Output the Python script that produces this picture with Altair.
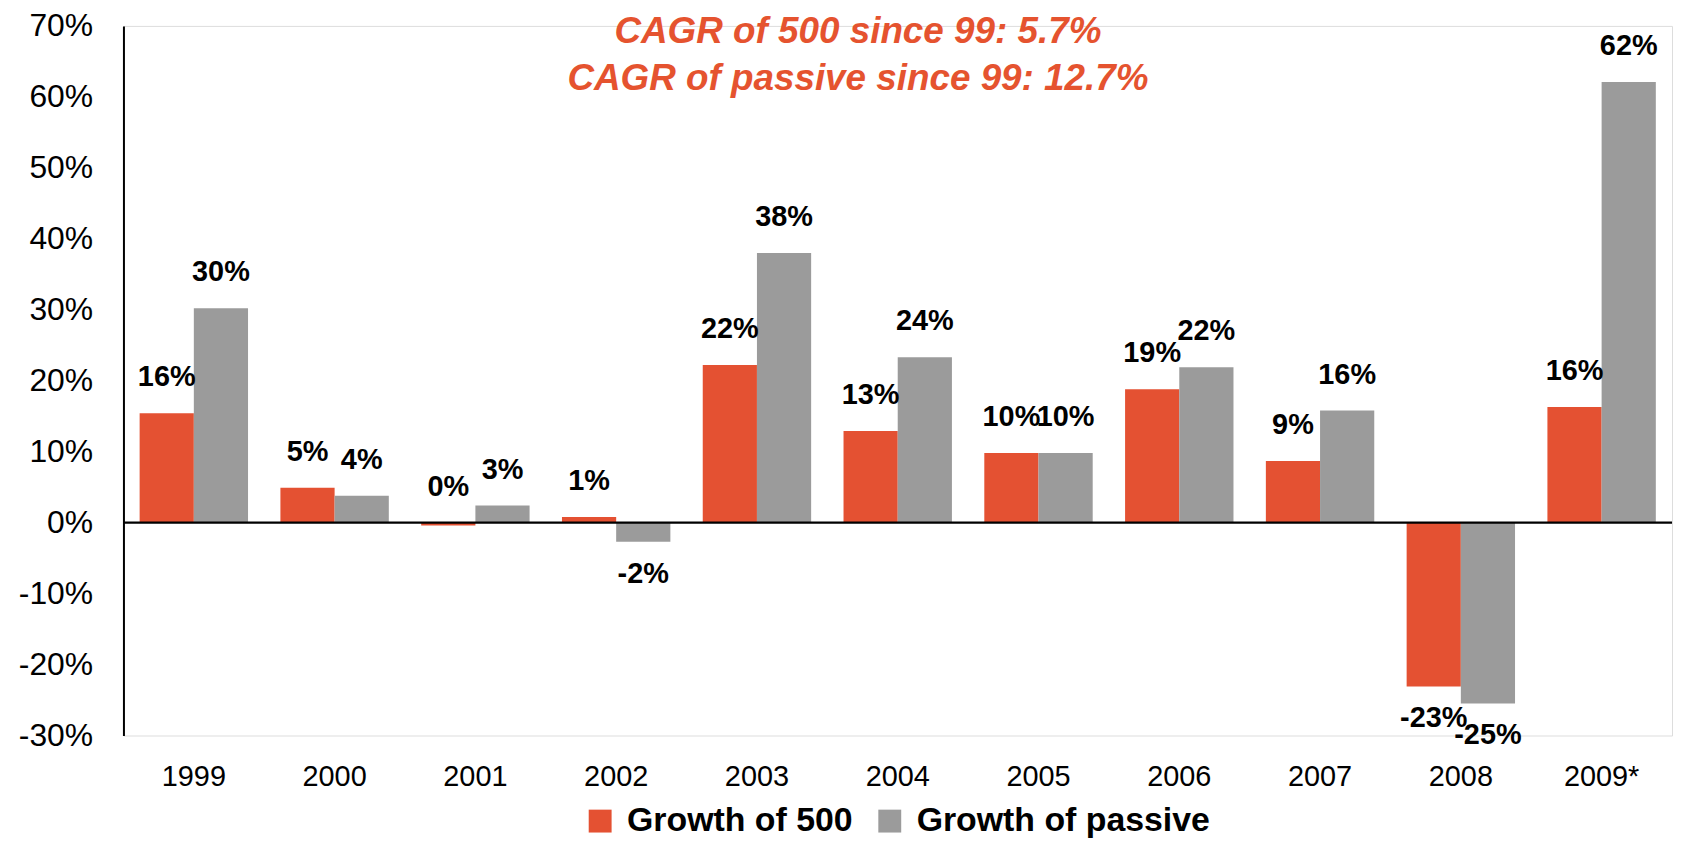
import altair as alt
import pandas as pd

years = ["1999", "2000", "2001", "2002", "2003", "2004", "2005", "2006", "2007", "2008", "2009*"]
series_names = ["Growth of 500", "Growth of passive"]
growth_500 = [15.4, 4.9, -0.4, 0.8, 22.2, 12.9, 9.8, 18.8, 8.7, -23.1, 16.3]
growth_passive = [30.2, 3.8, 2.4, -2.7, 38.0, 23.3, 9.8, 21.9, 15.8, -25.5, 62.1]
labels_500 = ["16%", "5%", "0%", "1%", "22%", "13%", "10%", "19%", "9%", "-23%", "16%"]
labels_passive = ["30%", "4%", "3%", "-2%", "38%", "24%", "10%", "22%", "16%", "-25%", "62%"]
title_lines = ["CAGR of 500 since 99: 5.7%", "CAGR of passive since 99: 12.7%"]
y_ticks = [-30, -20, -10, 0, 10, 20, 30, 40, 50, 60, 70]

RED = "#E45132"
GRAY = "#9B9B9B"
FONT = "Liberation Sans, Arial, sans-serif"

rows = []
for i, y in enumerate(years):
    rows.append({"year": y, "series": series_names[0], "value": growth_500[i], "label": labels_500[i]})
    rows.append({"year": y, "series": series_names[1], "value": growth_passive[i], "label": labels_passive[i]})
df = pd.DataFrame(rows)

x_enc = alt.X("year:N", sort=years, title=None,
              scale=alt.Scale(paddingInner=0.23, paddingOuter=0.115),
              axis=alt.Axis(labelAngle=0, domain=False, ticks=False, labelPadding=27,
                            labelFontSize=29, labelFont=FONT, labelColor="black"))
xoff = alt.XOffset("series:N", sort=series_names)
y_scale = alt.Scale(domain=[-30, 70], nice=False, zero=False)

base = alt.Chart(df)

bars = base.mark_bar().encode(
    x=x_enc,
    xOffset=xoff,
    y=alt.Y("value:Q", scale=y_scale, title=None,
            axis=alt.Axis(values=y_ticks, labelExpr="datum.value + '%'", grid=False,
                          ticks=False, labelPadding=31, labelFontSize=32, labelFont=FONT,
                          labelColor="black", domainColor="black", domainWidth=2)),
    color=alt.Color("series:N", sort=series_names,
                    scale=alt.Scale(domain=series_names, range=[RED, GRAY]),
                    legend=alt.Legend(title=None, orient="none", legendX=462, legendY=782,
                                      direction="horizontal",
                                      symbolType="square", symbolSize=529, symbolStrokeWidth=0,
                                      labelFontSize=34, labelFontWeight="bold", labelFont=FONT,
                                      labelColor="black", labelOffset=10, columnPadding=20,
                                      labelLimit=400, padding=0)),
)

zero = alt.Chart(pd.DataFrame({"z": [0]})).mark_rule(color="black", strokeWidth=2.5).encode(
    y=alt.Y("z:Q", scale=y_scale)
)

pos_labels = base.transform_filter("datum.label[0] != '-'").transform_calculate(
    anchor="max(datum.value, 0)"
).mark_text(fontSize=29, fontWeight="bold", font=FONT, color="black", dy=-36,
            baseline="middle", align="center").encode(
    x=alt.X("year:N", sort=years),
    xOffset=xoff,
    y=alt.Y("anchor:Q", scale=y_scale),
    text="label:N",
)

neg_labels = base.transform_filter("datum.label[0] == '-'").mark_text(
    fontSize=29, fontWeight="bold", font=FONT, color="black", dy=32,
    baseline="middle", align="center").encode(
    x=alt.X("year:N", sort=years),
    xOffset=xoff,
    y=alt.Y("value:Q", scale=y_scale),
    text="label:N",
)

title = alt.Chart(pd.DataFrame({"t": [0]})).mark_text(
    fontSize=37, fontWeight="bold", fontStyle="italic", font=FONT, color="#E5532F",
    align="center", baseline="middle", lineHeight=47
).encode(
    x=alt.value(738), y=alt.value(6), text=alt.value(title_lines)
)

chart = alt.layer(bars, zero, pos_labels, neg_labels, title).properties(
    width=1556, height=713,
    autosize=alt.AutoSizeParams(type="none"),
    padding={"left": 116, "top": 16, "right": 1, "bottom": 103},
).configure_view(stroke=None).configure(font=FONT)

chart.save("out.html", embed_options={"renderer": "svg", "actions": False})
